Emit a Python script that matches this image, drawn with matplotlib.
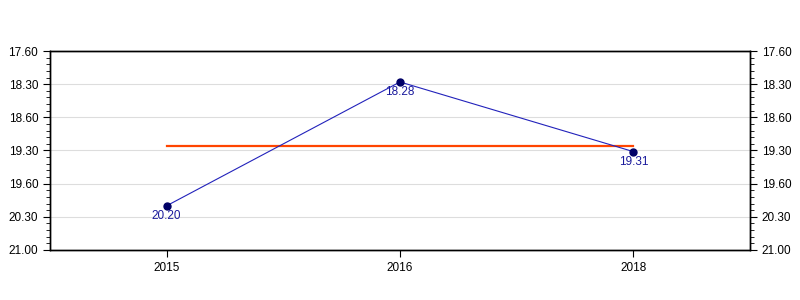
import matplotlib
matplotlib.use('Agg')
import matplotlib.pyplot as plt
from matplotlib.ticker import MultipleLocator
import numpy as np

plt.rcParams['font.family'] = ['Liberation Sans', 'DejaVu Sans']

years = ['2015', '2016', '2018']
times = [20.20, 18.28, 19.31]          # min.sec
tick_labels = ['17.60', '18.30', '18.60', '19.30', '19.60', '20.30', '21.00']


def to_minutes(t):
    m = int(t)
    s = round((t - m) * 100)
    return m + s / 60.0


vals = [to_minutes(t) for t in times]
mean_val = np.mean(vals)
x = np.arange(len(years))

fig = plt.figure(figsize=(8, 3), dpi=100)
ax = fig.add_axes([0.0625, 0.1667, 0.875, 0.6633])

ax.set_xlim(-0.5, len(years) - 0.5)
ax.set_ylim(21.0, 18.0)
ticks = np.arange(18.0, 21.01, 0.5)
ax.set_yticks(ticks)
ax.set_yticklabels(tick_labels)
ax.yaxis.set_minor_locator(MultipleLocator(0.1))
ax.set_xticks(x)
ax.set_xticklabels(years)

for t in ticks[1:-1]:
    ax.axhline(t, color='#dddddd', lw=0.8, zorder=0)

ax.plot([x[0], x[-1]], [mean_val, mean_val], color='#ff4500', lw=1.6, zorder=2)
ax.plot(x, vals, color='#2222bb', lw=0.8, zorder=3)
ax.plot(x, vals, 'o', color='#000066', ms=5, zorder=4)
for xi, v, t in zip(x, vals, times):
    ax.text(xi, v + 0.06, '%.2f' % t, color='#1a1a9c', fontsize=8.5,
            ha='center', va='top', zorder=5)

ax.tick_params(axis='both', labelsize=8.5, length=5, width=0.8, color='black')
ax.tick_params(axis='y', which='minor', length=3, width=0.6)
ax.tick_params(axis='x', pad=4)

ax2 = ax.twinx()
ax2.set_ylim(ax.get_ylim())
ax2.set_yticks(ticks)
ax2.set_yticklabels(tick_labels)
ax2.yaxis.set_minor_locator(MultipleLocator(0.1))
ax2.tick_params(axis='y', labelsize=8.5, length=5, width=0.8)
ax2.tick_params(axis='y', which='minor', length=3, width=0.6)

for a in (ax, ax2):
    for sp in a.spines.values():
        sp.set_linewidth(1.0)

fig.savefig('out.png', dpi=100)
